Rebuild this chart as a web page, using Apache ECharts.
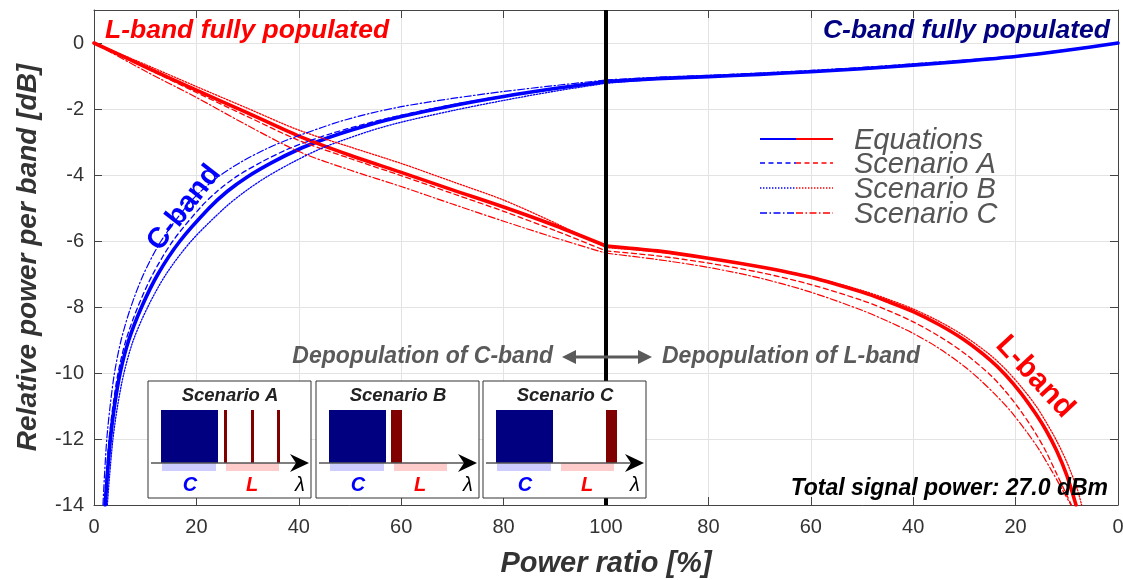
<!DOCTYPE html>
<html>
<head>
<meta charset="utf-8">
<script src="https://cdn.jsdelivr.net/npm/echarts@6/dist/echarts.min.js"></script>
<style>
html,body{margin:0;padding:0;background:#fff;}
#chart{width:1123px;height:580px;}
</style>
</head>
<body>
<div id="chart"></div>
<script>
// ---- tick labels ----
const xTickLabels = ['0','20','40','60','80','100','80','60','40','20','0'];

// ---- C-band curves [internal x (0..200), dB] ----
const cEq = [[2.2,-14],[2.6,-13.1],[3.2,-12],[4.0,-11],[5.1,-10],[6.8,-9],[9.3,-8],[12.5,-7],[16.8,-6],[22.5,-5],[26,-4.5],[30,-4.05],[35,-3.6],[40,-3.22],[44,-2.97],[48,-2.75],[54,-2.47],[60,-2.23],[70,-1.9],[80,-1.62],[90,-1.38],[100,-1.17],[110,-1.08],[120,-1.02],[130,-0.95],[140,-0.87],[150,-0.78],[160,-0.67],[170,-0.55],[180,-0.41],[190,-0.22],[200,0]];
const cA = [[2.0,-14],[2.4,-13.1],[2.95,-12],[3.7,-11],[4.7,-10],[6.25,-9],[8.55,-8],[11.5,-7],[15.4,-6],[20.7,-5],[24,-4.5],[27.8,-4.05],[32.8,-3.6],[37.8,-3.22],[42,-2.97],[46.2,-2.75],[52.5,-2.47],[58.8,-2.23],[69,-1.9],[79.3,-1.62],[89.6,-1.38],[100,-1.15],[110,-1.06],[120,-1.0],[130,-0.93],[140,-0.85],[150,-0.76],[160,-0.65],[170,-0.53],[180,-0.4],[190,-0.21],[200,0]];
const cB = [[2.6,-14],[3.05,-13.1],[3.7,-12],[4.6,-11],[5.85,-10],[7.7,-9],[10.5,-8],[14.1,-7],[19,-6],[25.5,-5],[29.5,-4.5],[33.8,-4.05],[39,-3.6],[44,-3.22],[48,-2.98],[54,-2.66],[60,-2.4],[70,-2.05],[80,-1.74],[90,-1.46],[100,-1.22],[110,-1.1],[120,-1.03],[130,-0.96],[140,-0.88],[150,-0.79],[160,-0.68],[170,-0.56],[180,-0.42],[190,-0.23],[200,0]];
const cC = [[1.75,-14],[2.05,-13.1],[2.5,-12],[3.15,-11],[4.0,-10],[5.3,-9],[7.2,-8],[9.7,-7],[13.1,-6],[17.8,-5],[20.8,-4.5],[24.3,-4.05],[28.8,-3.6],[33.5,-3.22],[37.2,-2.97],[41,-2.75],[48,-2.38],[54,-2.13],[60,-1.93],[70,-1.68],[80,-1.47],[90,-1.29],[100,-1.12],[110,-1.04],[120,-0.98],[130,-0.91],[140,-0.83],[150,-0.74],[160,-0.63],[170,-0.52],[180,-0.39],[190,-0.2],[200,0]];

// ---- L-band curves ----
const lEq = [[0,0],[10,-0.72],[20,-1.43],[30,-2.12],[40,-2.82],[50,-3.4],[60,-3.92],[70,-4.45],[80,-4.97],[90,-5.53],[100,-6.15],[110,-6.3],[120,-6.52],[130,-6.78],[140,-7.1],[150,-7.55],[155,-7.83],[160,-8.14],[165,-8.53],[170,-9.0],[175,-9.6],[178,-10.05],[181,-10.6],[184,-11.25],[186,-11.75],[188,-12.35],[190,-13.1],[191.8,-14]];
const lA = [[0,0],[10,-0.75],[20,-1.5],[30,-2.23],[40,-2.95],[50,-3.5],[60,-4.02],[70,-4.56],[80,-5.1],[90,-5.68],[100,-6.3],[110,-6.45],[120,-6.67],[130,-6.95],[140,-7.32],[150,-7.8],[155,-8.1],[160,-8.45],[165,-8.88],[170,-9.4],[175,-10.05],[178,-10.55],[181,-11.15],[184,-11.85],[186,-12.4],[188,-13.05],[190,-13.7],[190.9,-14]];
const lB = [[0,0],[10,-0.65],[20,-1.32],[30,-1.98],[40,-2.64],[50,-3.15],[60,-3.65],[70,-4.2],[80,-4.76],[90,-5.45],[100,-6.2],[110,-6.33],[120,-6.53],[130,-6.77],[140,-7.08],[150,-7.5],[155,-7.76],[160,-8.06],[165,-8.43],[170,-8.88],[175,-9.45],[178,-9.88],[181,-10.4],[184,-11.0],[186,-11.5],[188,-12.05],[190,-12.7],[192,-13.5],[192.9,-14]];
const lC = [[0,0],[10,-0.85],[20,-1.65],[30,-2.5],[40,-3.29],[50,-3.85],[60,-4.35],[70,-4.88],[80,-5.4],[90,-5.9],[100,-6.37],[110,-6.56],[120,-6.8],[130,-7.12],[140,-7.55],[150,-8.1],[155,-8.43],[160,-8.8],[165,-9.25],[170,-9.8],[173,-10.2],[176,-10.65],[179,-11.15],[182,-11.75],[184.5,-12.3],[187,-12.95],[189,-13.5],[190.8,-14]];

const legendNames = ['Equations','Scenario A','Scenario B','Scenario C'];
const insetTitles = ['Scenario A','Scenario B','Scenario C'];
const dividerX = [100];

// ---- styles ----
const FF = '"Liberation Sans", Arial, Helvetica, sans-serif';
const BLUE = '#0000ff', RED = '#ff0000';
const dashes = [null, [5,3.5], [1.4,1.6], [7,2.5,1.5,2.5]];
const widths = [3.6, 1.3, 1.3, 1.2];

// each curve is drawn as two smooth pieces meeting at the 100 % point
function mkSeries(data, color, i) {
  const mid = dividerX[0];
  return [data.filter(p => p[0] <= mid), data.filter(p => p[0] >= mid)].map(part => ({
    type: 'line', data: part, showSymbol: false, symbol: 'none',
    smooth: 0.3, silent: true, z: i === 0 ? 3 : 4,
    lineStyle: { color: color, width: widths[i], type: dashes[i] || 'solid', cap: 'round', join: 'round' }
  }));
}

const series = [].concat(
  mkSeries(cEq, BLUE, 0), mkSeries(lEq, RED, 0),
  mkSeries(cA, BLUE, 1), mkSeries(lA, RED, 1),
  mkSeries(cB, BLUE, 2), mkSeries(lB, RED, 2),
  mkSeries(cC, BLUE, 3), mkSeries(lC, RED, 3),
  [{ type: 'line', data: [], z: 6, silent: true,
    markLine: { silent: true, symbol: 'none', animation: false,
      label: { show: false },
      lineStyle: { color: '#000', width: 4, type: 'solid' },
      data: dividerX.map(v => ({ xAxis: v })) } }]
);

// ---- graphics: legend, annotations, insets ----
const graphics = [];
const legY = [139, 163, 188, 213];
function txt(x, y, s, font, fill, align, rot, z) {
  return { type: 'text', x: x, y: y, rotation: rot || 0, z: z || 30,
    style: { text: s, font: font, fill: fill, align: align, verticalAlign: 'middle', textAlign: align, textVerticalAlign: 'middle' } };
}
legendNames.forEach((n, i) => {
  const ld = dashes[i] || null;
  graphics.push({ type: 'line', shape: { x1: 760, y1: legY[i], x2: 796, y2: legY[i] },
    style: { stroke: BLUE, lineWidth: i === 0 ? 2 : 1.5, lineDash: ld }, z: 30 });
  graphics.push({ type: 'line', shape: { x1: 796, y1: legY[i], x2: 833, y2: legY[i] },
    style: { stroke: RED, lineWidth: i === 0 ? 2 : 1.5, lineDash: ld }, z: 30 });
  graphics.push(txt(854, legY[i] + 2, n, 'italic 29px ' + FF, '#555', 'left'));
});

graphics.push(txt(105, 31, 'L-band fully populated', 'italic bold 26.5px ' + FF, RED, 'left'));
graphics.push(txt(1110, 31, 'C-band fully populated', 'italic bold 26.5px ' + FF, '#000080', 'right'));
graphics.push(txt(184, 208, 'C-band', 'bold 29px ' + FF, BLUE, 'center', 52 * Math.PI / 180));
graphics.push(txt(1035, 377, 'L-band', 'bold 30px ' + FF, RED, 'center', -47 * Math.PI / 180));
graphics.push(txt(553, 357, 'Depopulation of C-band', 'italic bold 23px ' + FF, '#5a5a5a', 'right'));
graphics.push(txt(662, 357, 'Depopulation of L-band', 'italic bold 23px ' + FF, '#5a5a5a', 'left'));
graphics.push(txt(1108, 489, 'Total signal power: 27.0 dBm', 'italic bold 23px ' + FF, '#000', 'right'));
// double arrow
graphics.push({ type: 'line', shape: { x1: 570, y1: 357, x2: 644, y2: 357 }, style: { stroke: '#5a5a5a', lineWidth: 3 }, z: 30 });
graphics.push({ type: 'polygon', shape: { points: [[562,357],[576,350],[576,364]] }, style: { fill: '#5a5a5a' }, z: 30 });
graphics.push({ type: 'polygon', shape: { points: [[652,357],[638,350],[638,364]] }, style: { fill: '#5a5a5a' }, z: 30 });

// insets
const insetLeft = [148, 316, 483];
const insetSignals = [[[76,3],[103,3],[129,3]], [[75,11]], [[123,11]]];
insetTitles.forEach((t, k) => {
  const L = insetLeft[k], T = 381;
  graphics.push({ type: 'rect', shape: { x: L, y: T, width: 163, height: 117 }, style: { fill: '#fff', stroke: '#333', lineWidth: 1 }, z: 40 });
  graphics.push(txt(L + 82, T + 15, t, 'italic bold 18.5px ' + FF, '#222', 'center', 0, 43));
  graphics.push({ type: 'rect', shape: { x: L + 14, y: T + 82, width: 54, height: 8 }, style: { fill: '#ccccff' }, z: 41 });
  graphics.push({ type: 'rect', shape: { x: L + 78, y: T + 82, width: 53, height: 8 }, style: { fill: '#ffcccc' }, z: 41 });
  graphics.push({ type: 'rect', shape: { x: L + 13, y: T + 29, width: 57, height: 53 }, style: { fill: '#000080' }, z: 41 });
  insetSignals[k].forEach(s => {
    graphics.push({ type: 'rect', shape: { x: L + s[0], y: T + 29, width: s[1], height: 53 }, style: { fill: '#800000' }, z: 41 });
  });
  graphics.push({ type: 'line', shape: { x1: L + 3, y1: T + 82, x2: L + 150, y2: T + 82 }, style: { stroke: '#555', lineWidth: 1.5 }, z: 42 });
  graphics.push({ type: 'polygon', shape: { points: [[L+161,T+82],[L+142,T+73],[L+148,T+82],[L+142,T+91]] }, style: { fill: '#000' }, z: 42 });
  graphics.push(txt(L + 42, T + 104, 'C', 'italic bold 20px ' + FF, BLUE, 'center', 0, 43));
  graphics.push(txt(L + 104, T + 104, 'L', 'italic bold 20px ' + FF, RED, 'center', 0, 43));
  graphics.push(txt(L + 152, T + 104, 'λ', 'italic 20px ' + FF, '#000', 'center', 0, 43));
});

const axisCommon = {
  axisLine: { show: true, onZero: false, lineStyle: { color: '#444', width: 1 } },
  axisTick: { show: true, inside: true, length: 8, lineStyle: { color: '#444' } }
};

const option = {
  animation: false,
  backgroundColor: '#fff',
  grid: { left: 94, right: 5, top: 10, bottom: 75, containLabel: false, outerBoundsMode: 'none' },
  xAxis: [
    Object.assign({ type: 'value', min: 0, max: 200, interval: 20, position: 'bottom',
      name: 'Power ratio [%]', nameLocation: 'middle', nameGap: 44,
      nameTextStyle: { fontFamily: FF, fontSize: 29, fontWeight: 'bold', fontStyle: 'italic', color: '#333' },
      axisLabel: { fontFamily: FF, fontSize: 20, color: '#333', margin: 12,
        formatter: v => xTickLabels[Math.round(v / 20)] },
      splitLine: { show: true, lineStyle: { color: '#e3e3e3', width: 1 } } }, axisCommon),
    Object.assign({ type: 'value', min: 0, max: 200, interval: 20, position: 'top',
      axisLabel: { show: false }, splitLine: { show: false } }, axisCommon)
  ],
  yAxis: [
    Object.assign({ type: 'value', min: -14, max: 1, interval: 2, position: 'left',
      name: 'Relative power per band [dB]', nameLocation: 'middle', nameGap: 52,
      nameTextStyle: { fontFamily: FF, fontSize: 28, fontWeight: 'bold', fontStyle: 'italic', color: '#333' },
      axisLabel: { fontFamily: FF, fontSize: 20, color: '#333', margin: 10,
        formatter: v => (v > 0.5 ? '' : String(v)) },
      splitLine: { show: true, lineStyle: { color: '#e3e3e3', width: 1 } } }, axisCommon),
    Object.assign({ type: 'value', min: -14, max: 1, interval: 2, position: 'right',
      axisLabel: { show: false }, splitLine: { show: false } }, axisCommon)
  ],
  series: series,
  graphic: { elements: graphics }
};

const chart = echarts.init(document.getElementById('chart'), null, { renderer: 'canvas' });
chart.setOption(option);
</script>
</body>
</html>
